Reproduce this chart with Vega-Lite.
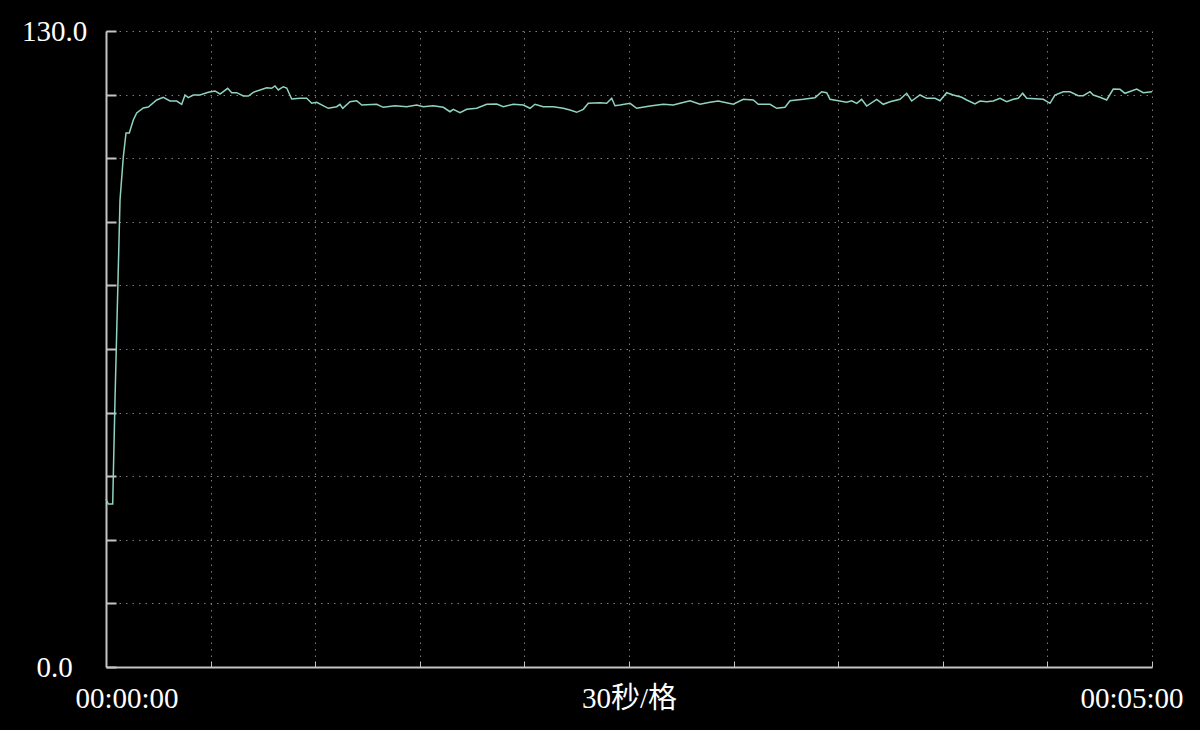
{
  "$schema": "https://vega.github.io/schema/vega-lite/v6.json",
  "width": 1046,
  "height": 636,
  "autosize": {"type": "none"},
  "padding": {"left": 106, "top": 31, "right": 48, "bottom": 63},
  "background": "#000000",
  "config": {"view": {"stroke": null}},
  "data": {"values": [
    {"t": 0, "v": 34.34}, {"t": 0.66, "v": 33.32}, {"t": 1.92, "v": 33.32}, {"t": 2.09, "v": 38.84},
    {"t": 2.58, "v": 54.58}, {"t": 3.3, "v": 75.02}, {"t": 4.02, "v": 95.46}, {"t": 4.96, "v": 104.25},
    {"t": 5.74, "v": 109.15}, {"t": 6.68, "v": 109.15}, {"t": 7.83, "v": 111.81}, {"t": 8.8, "v": 113.24},
    {"t": 10.7, "v": 114.26}, {"t": 12.13, "v": 114.47}, {"t": 14.54, "v": 115.9}, {"t": 16.43, "v": 116.45},
    {"t": 18.36, "v": 115.69}, {"t": 20.28, "v": 115.69}, {"t": 21.71, "v": 115.02}, {"t": 22.66, "v": 116.92},
    {"t": 23.6, "v": 116.37}, {"t": 25.04, "v": 116.92}, {"t": 26.96, "v": 116.92}, {"t": 29.34, "v": 117.47},
    {"t": 31.26, "v": 117.74}, {"t": 32.7, "v": 117.12}, {"t": 34.9, "v": 118.29}, {"t": 36.05, "v": 117.39},
    {"t": 37.49, "v": 117.39}, {"t": 39.38, "v": 116.71}, {"t": 40.81, "v": 116.71}, {"t": 42.25, "v": 117.47},
    {"t": 44.17, "v": 117.94}, {"t": 46.09, "v": 118.41}, {"t": 47.52, "v": 118.29}, {"t": 48.47, "v": 118.76},
    {"t": 49.42, "v": 117.94}, {"t": 50.85, "v": 118.61}, {"t": 51.83, "v": 118.35}, {"t": 53.26, "v": 116.1},
    {"t": 55.64, "v": 116.24}, {"t": 57.56, "v": 116.24}, {"t": 59.0, "v": 115.22}, {"t": 60.43, "v": 115.42},
    {"t": 63.76, "v": 114.2}, {"t": 66.17, "v": 114.53}, {"t": 67.11, "v": 115.02}, {"t": 67.89, "v": 114.2},
    {"t": 69.98, "v": 115.55}, {"t": 71.9, "v": 115.75}, {"t": 73.34, "v": 114.87}, {"t": 77.64, "v": 115.02},
    {"t": 79.53, "v": 114.4}, {"t": 82.89, "v": 114.73}, {"t": 86.24, "v": 114.53}, {"t": 89.11, "v": 114.87},
    {"t": 91.0, "v": 114.53}, {"t": 93.87, "v": 114.73}, {"t": 96.74, "v": 114.4}, {"t": 98.66, "v": 113.5},
    {"t": 99.61, "v": 113.99}, {"t": 101.53, "v": 113.3}, {"t": 103.45, "v": 113.99}, {"t": 106.32, "v": 114.2},
    {"t": 109.19, "v": 115.02}, {"t": 112.06, "v": 115.08}, {"t": 113.95, "v": 114.53}, {"t": 116.82, "v": 115.02},
    {"t": 119.69, "v": 114.87}, {"t": 121.61, "v": 114.2}, {"t": 123.04, "v": 115.02}, {"t": 125.42, "v": 114.53},
    {"t": 128.29, "v": 114.53}, {"t": 131.16, "v": 114.2}, {"t": 133.08, "v": 113.85}, {"t": 135.0, "v": 113.38},
    {"t": 136.89, "v": 113.99}, {"t": 138.33, "v": 115.22}, {"t": 141.68, "v": 115.34}, {"t": 143.61, "v": 115.22},
    {"t": 145.04, "v": 116.24}, {"t": 145.98, "v": 114.73}, {"t": 147.42, "v": 114.87}, {"t": 150.29, "v": 115.22},
    {"t": 152.21, "v": 114.2}, {"t": 156.02, "v": 114.67}, {"t": 159.84, "v": 115.02}, {"t": 162.71, "v": 114.87},
    {"t": 164.63, "v": 115.22}, {"t": 167.5, "v": 115.75}, {"t": 170.36, "v": 115.02}, {"t": 173.23, "v": 115.42},
    {"t": 175.61, "v": 115.69}, {"t": 179.91, "v": 115.02}, {"t": 182.78, "v": 116.04}, {"t": 185.65, "v": 115.9},
    {"t": 187.08, "v": 115.02}, {"t": 190.44, "v": 115.02}, {"t": 192.36, "v": 114.2}, {"t": 194.74, "v": 114.4},
    {"t": 196.18, "v": 115.75}, {"t": 199.99, "v": 116.04}, {"t": 203.35, "v": 116.37}, {"t": 205.27, "v": 117.59},
    {"t": 206.7, "v": 117.39}, {"t": 207.65, "v": 116.04}, {"t": 210.03, "v": 115.75}, {"t": 212.44, "v": 115.42},
    {"t": 213.87, "v": 115.75}, {"t": 215.3, "v": 115.22}, {"t": 216.73, "v": 116.04}, {"t": 218.17, "v": 114.67},
    {"t": 221.04, "v": 116.04}, {"t": 222.93, "v": 115.02}, {"t": 224.85, "v": 115.55}, {"t": 227.72, "v": 116.04},
    {"t": 229.64, "v": 117.27}, {"t": 231.07, "v": 115.69}, {"t": 233.45, "v": 116.92}, {"t": 235.38, "v": 116.24},
    {"t": 237.76, "v": 116.24}, {"t": 239.19, "v": 115.75}, {"t": 241.11, "v": 117.39}, {"t": 243.01, "v": 116.92},
    {"t": 245.42, "v": 116.45}, {"t": 246.85, "v": 115.9}, {"t": 249.23, "v": 115.08}, {"t": 250.66, "v": 115.69},
    {"t": 252.58, "v": 115.55}, {"t": 254.48, "v": 115.69}, {"t": 256.4, "v": 116.24}, {"t": 258.32, "v": 115.55},
    {"t": 260.21, "v": 116.04}, {"t": 261.65, "v": 116.24}, {"t": 262.91, "v": 117.27}, {"t": 264.06, "v": 116.24},
    {"t": 268.82, "v": 116.04}, {"t": 270.74, "v": 115.22}, {"t": 272.17, "v": 116.92}, {"t": 274.55, "v": 117.59},
    {"t": 276.48, "v": 117.59}, {"t": 278.86, "v": 116.78}, {"t": 280.29, "v": 116.78}, {"t": 282.21, "v": 117.59},
    {"t": 283.16, "v": 116.92}, {"t": 285.08, "v": 116.45}, {"t": 287.0, "v": 115.9}, {"t": 288.89, "v": 118.14},
    {"t": 290.82, "v": 118.08}, {"t": 292.25, "v": 117.27}, {"t": 295.61, "v": 118.14}, {"t": 297.5, "v": 117.39},
    {"t": 300.0, "v": 117.59}
  ]},
  "mark": {"type": "line", "color": "#8fd3c3", "strokeWidth": 1.5},
  "encoding": {
    "x": {
      "field": "t", "type": "quantitative",
      "scale": {"domain": [0, 300], "nice": false, "zero": false},
      "axis": {
        "title": null,
        "values": [0, 30, 60, 90, 120, 150, 180, 210, 240, 270, 300],
        "grid": true, "gridColor": "#7a7a7a", "gridDash": [1.5, 5], "gridWidth": 1,
        "domainColor": "#c4c4c4", "domainWidth": 2,
        "tickColor": "#c4c4c4", "tickSize": -6, "tickWidth": 1,
        "labelExpr": "datum.value == 0 ? '00:00:00' : datum.value == 150 ? '30秒/格' : datum.value == 300 ? '00:05:00' : ''",
        "labelFlush": true, "labelFlushOffset": 31, "labelOverlap": false,
        "labelFont": "Liberation Serif, Noto Sans CJK SC", "labelFontSize": 29,
        "labelColor": "#ffffff", "labelBaseline": "top", "labelPadding": 23
      }
    },
    "y": {
      "field": "v", "type": "quantitative",
      "scale": {"domain": [0, 130], "nice": false},
      "axis": {
        "title": null,
        "values": [0, 13, 26, 39, 52, 65, 78, 91, 104, 117, 130],
        "grid": true, "gridColor": "#7a7a7a", "gridDash": [1.5, 5], "gridWidth": 1,
        "domainColor": "#c4c4c4", "domainWidth": 2,
        "tickColor": "#c4c4c4", "tickSize": -10, "tickWidth": 2,
        "labelExpr": "datum.value == 0 || datum.value == 130 ? format(datum.value, '.1f') : ''",
        "labelOverlap": false, "labelAlign": "center", "labelBaseline": "middle",
        "labelFont": "Liberation Serif", "labelFontSize": 29,
        "labelColor": "#ffffff", "labelPadding": 62
      }
    }
  }
}
